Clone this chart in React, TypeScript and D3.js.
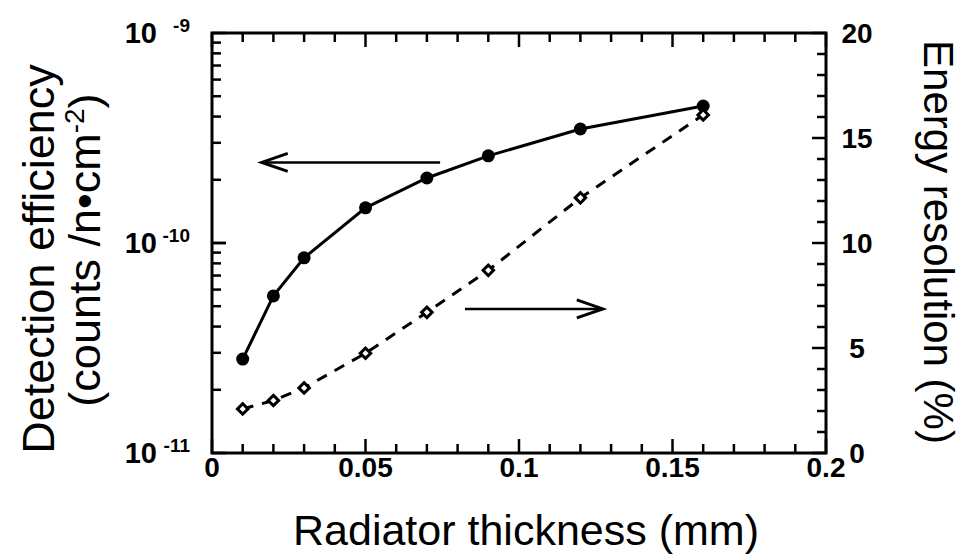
import React from "react";
import * as d3 from "d3";

// ---- data ----
const thickness = [0.01, 0.02, 0.03, 0.05, 0.07, 0.09, 0.12, 0.16];
const efficiency = [2.8e-11, 5.6e-11, 8.5e-11, 1.47e-10, 2.04e-10, 2.6e-10, 3.49e-10, 4.49e-10];
const resolution = [2.1, 2.5, 3.1, 4.75, 6.7, 8.7, 12.15, 16.1];
const xTicks = [0, 0.05, 0.1, 0.15, 0.2];
const xTickLabels = ["0", "0.05", "0.1", "0.15", "0.2"];
const leftTicks = [1e-11, 1e-10, 1e-9];
const leftTickExps = ["-11", "-10", "-9"];
const rightTicks = [0, 5, 10, 15, 20];
// annotation arrows (data units)
const leftArrow = { x0: 0.0743, x1: 0.0162, y: 2.42e-10 };
const rightArrow = { x0: 0.0824, x1: 0.1273, y: 6.86 };

const W = 963;
const H = 554;
const FONT = "'Liberation Sans', Arial, Helvetica, sans-serif";

export default function App() {
  const left = 212, right = 826, top = 33, bottom = 453;
  const x = d3.scaleLinear().domain([0, 0.2]).range([left, right]);
  const yL = d3.scaleLog().domain([1e-11, 1e-9]).range([bottom, top]);
  const yR = d3.scaleLinear().domain([0, 20]).range([bottom, top]);

  const majorLen = 14, minorLen = 9;
  const xMinor = d3.range(0, 0.2001, 0.01);
  const rMinor = d3.range(0, 20.001, 1);
  const lMinor: number[] = [];
  [1e-11, 1e-10].forEach((d) => {
    for (let k = 1; k <= 10; k++) lMinor.push(d * k);
  });

  const lineL = d3
    .line<number>()
    .x((_, i) => x(thickness[i]))
    .y((d) => yL(d));
  const lineR = d3
    .line<number>()
    .x((_, i) => x(thickness[i]))
    .y((d) => yR(d));

  const diamond = d3.symbol().type(d3.symbolSquare).size(55)();

  const ticks: JSX.Element[] = [];
  xMinor.forEach((v, i) => {
    const isMajor = i % 5 === 0;
    const len = isMajor ? majorLen : minorLen;
    const px = x(v);
    ticks.push(<line key={"xb" + i} x1={px} x2={px} y1={bottom} y2={bottom - len} />);
    ticks.push(<line key={"xt" + i} x1={px} x2={px} y1={top} y2={top + len} />);
  });
  lMinor.forEach((v, i) => {
    const isMajor = Math.abs(Math.log10(v) - Math.round(Math.log10(v))) < 1e-6;
    const len = isMajor ? majorLen : minorLen;
    const py = yL(v);
    ticks.push(<line key={"yl" + i} x1={left} x2={left + len} y1={py} y2={py} />);
  });
  rMinor.forEach((v, i) => {
    const isMajor = i % 5 === 0;
    const len = isMajor ? majorLen : minorLen;
    const py = yR(v);
    ticks.push(<line key={"yr" + i} x1={right} x2={right - len} y1={py} y2={py} />);
  });

  const arrowHead = (tx: number, ty: number, dir: number) => {
    const L = 26, Hh = 9;
    return `M${tx - dir * L},${ty - Hh} L${tx},${ty} L${tx - dir * L},${ty + Hh}`;
  };

  return (
    <svg
      width={W}
      height={H}
      viewBox={`0 0 ${W} ${H}`}
      style={{ position: "absolute", left: 0, top: 0, background: "#fff" }}
      fontFamily={FONT}
    >
      <rect x={0} y={0} width={W} height={H} fill="#fff" />
      {/* frame */}
      <rect x={left} y={top} width={right - left} height={bottom - top} fill="none" stroke="#000" strokeWidth={3} />
      <g stroke="#000" strokeWidth={2.5}>{ticks}</g>

      {/* x tick labels */}
      {xTicks.map((v, i) => (
        <text key={"xl" + i} x={x(v)} y={477} textAnchor="middle" fontSize={28} fontWeight="bold">
          {xTickLabels[i]}
        </text>
      ))}
      {/* left tick labels */}
      {leftTicks.map((v, i) => (
        <g key={"ll" + i}>
          <text x={157} y={yL(v) + 10} textAnchor="end" fontSize={29} fontWeight="bold">
            10
          </text>
          <text x={190} y={yL(v) - 1} textAnchor="end" fontSize={19} fontWeight="bold">
            {leftTickExps[i]}
          </text>
        </g>
      ))}
      {/* right tick labels */}
      {rightTicks.map((v, i) => (
        <text key={"rl" + i} x={857} y={yR(v) + 10} textAnchor="middle" fontSize={28} fontWeight="bold">
          {String(v)}
        </text>
      ))}

      {/* axis titles */}
      <text x={526} y={545} textAnchor="middle" fontSize={43}>
        Radiator thickness (mm)
      </text>
      <text transform="translate(54,259) rotate(-90)" textAnchor="middle" fontSize={45}>
        Detection efficiency
      </text>
      <text transform="translate(100,250) rotate(-90)" textAnchor="middle" fontSize={45}>
        (counts /n•cm<tspan fontSize={28} dy={-16}>-2</tspan>
        <tspan dy={16}>)</tspan>
      </text>
      <text transform="translate(924,242) rotate(90)" textAnchor="middle" fontSize={42}>
        Energy resolution (%)
      </text>

      {/* arrows */}
      <g stroke="#000" strokeWidth={2.5} fill="none">
        <line x1={x(leftArrow.x0)} x2={x(leftArrow.x1)} y1={yL(leftArrow.y)} y2={yL(leftArrow.y)} />
        <path d={arrowHead(x(leftArrow.x1), yL(leftArrow.y), -1)} strokeWidth={3} />
        <line x1={x(rightArrow.x0)} x2={x(rightArrow.x1)} y1={yR(rightArrow.y)} y2={yR(rightArrow.y)} />
        <path d={arrowHead(x(rightArrow.x1), yR(rightArrow.y), 1)} strokeWidth={3} />
      </g>

      {/* efficiency (solid, filled circles) */}
      <path d={lineL(efficiency) || ""} fill="none" stroke="#000" strokeWidth={3} />
      {efficiency.map((v, i) => (
        <circle key={"e" + i} cx={x(thickness[i])} cy={yL(v)} r={6.5} fill="#000" />
      ))}

      {/* resolution (dashed, open diamonds) */}
      <path d={lineR(resolution) || ""} fill="none" stroke="#000" strokeWidth={3} strokeDasharray="11,9" />
      {resolution.map((v, i) => (
        <path
          key={"r" + i}
          d={diamond || ""}
          transform={`translate(${x(thickness[i])},${yR(v)}) rotate(45)`}
          fill="#fff"
          stroke="#000"
          strokeWidth={3}
        />
      ))}
    </svg>
  );
}
